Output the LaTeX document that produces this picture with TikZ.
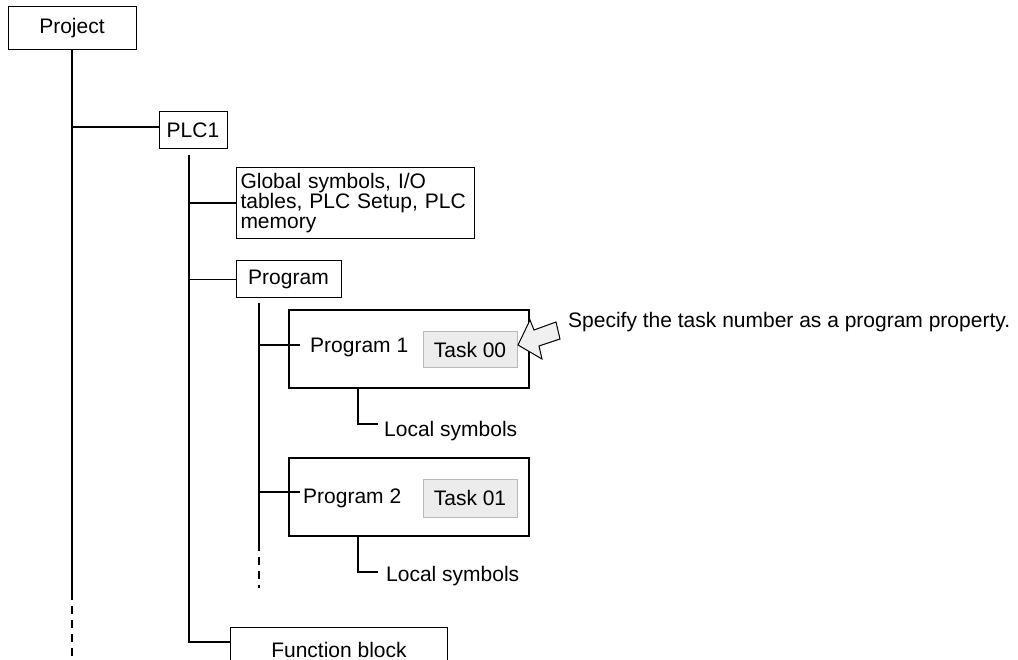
\documentclass[tikz,border=0pt]{standalone}
\usepackage{fontspec}
\setmainfont{Liberation Sans}
\begin{document}
\begin{tikzpicture}[x=1pt,y=-1pt,
  font=\fontsize{21}{20}\selectfont,
  box/.style={draw, line width=1pt, inner sep=0pt},
  progbox/.style={draw, line width=2.2pt, inner sep=0pt},
  taskbox/.style={draw=gray!55, fill=gray!15, line width=1pt, inner sep=0pt},
  conn/.style={line width=1.3pt},
  dashconn/.style={line width=1.6pt, dash pattern=on 8pt off 6pt},
  lbl/.style={inner sep=0pt}]
\useasboundingbox (0,0) rectangle (1018,660);
\clip (0,0) rectangle (1018,660);

% boxes
\node[box, minimum width=128pt, minimum height=43pt] (proj) at (72,28.5) {Project};
\node[box, minimum width=68pt, minimum height=37pt] (plc) at (193,130.5) {PLC1};
\node[box, anchor=north west, text width=230pt, align=left, inner xsep=4pt,
      font=\fontsize{21}{19.5}\selectfont,
      minimum height=71pt] (glob) at (236,167)
      {Global symbols, I/O\\tables, PLC Setup, PLC\\memory};
\node[box, minimum width=105pt, minimum height=37pt] (prog) at (288.5,279.5) {Program};

\node[progbox, minimum width=240pt, minimum height=78pt] (p1) at (409,349) {};
\node[lbl, anchor=west, inner xsep=10pt] (p1t) at (300,347) {Program 1};
\node[taskbox, minimum width=94pt, minimum height=36pt] (t0) at (470,350) {Task 00};

\node[progbox, minimum width=240pt, minimum height=78pt] (p2) at (409,497) {};
\node[lbl, anchor=west, inner xsep=3pt] (p2t) at (300,498) {Program 2};
\node[taskbox, minimum width=94pt, minimum height=38pt] (t1) at (470,498) {Task 01};

\node[box, anchor=north west, minimum width=217pt, minimum height=45pt] (fb) at (230,627) {Function block};

\node[lbl, anchor=base west] (ls1) at (384,436) {Local symbols};
\node[lbl, anchor=base west] (ls2) at (386,581) {Local symbols};

% callout arrow and text
\draw[line width=1pt, fill=gray!12, line join=miter]
  (518,345) -- (530,320) -- (534,330) -- (556,322) -- (560,339) -- (539,346) -- (542,359) -- cycle;
\node[lbl, anchor=base west] (spec) at (568,328) {Specify the task number as a program property.};

% project trunk
\coordinate (pjd) at (72,592);
\coordinate (pjb) at (72,664);
\coordinate (j1) at (72,127);
\draw[conn] (proj.south) -- (pjd);
\draw[dashconn] (pjd) -- (pjb);
\draw[conn] (j1) -- (j1 -| plc.west);

% PLC trunk
\coordinate (pv) at (189,155);
\coordinate (pvb) at (189,642);
\draw[conn] (pv) -- (pvb) -- (pvb -| fb.west);
\draw[conn] (glob.west -| pv) -- (glob.west);
\draw[conn] (prog.west -| pv) -- (prog.west);

% Program trunk
\coordinate (gv) at (259,303);
\coordinate (gvd) at (259,543);
\coordinate (gvb) at (259,588);
\draw[conn] (gv) -- (gvd);
\draw[dashconn] (gvd) -- (gvb);
\draw[conn] ([yshift=2pt]p1t.west -| gv) -- ([yshift=2pt]p1t.west);
\draw[conn] ([yshift=6pt]p2t.west -| gv) -- ([yshift=6pt]p2t.west);

% local symbols
\coordinate (l1c) at (358,424);
\coordinate (l1e) at (378,424);
\coordinate (l2c) at (358,572);
\coordinate (l2e) at (378,572);
\draw[conn] (p1.south -| l1c) -- (l1c) -- (l1e);
\draw[conn] (p2.south -| l2c) -- (l2c) -- (l2e);
\end{tikzpicture}
\end{document}
